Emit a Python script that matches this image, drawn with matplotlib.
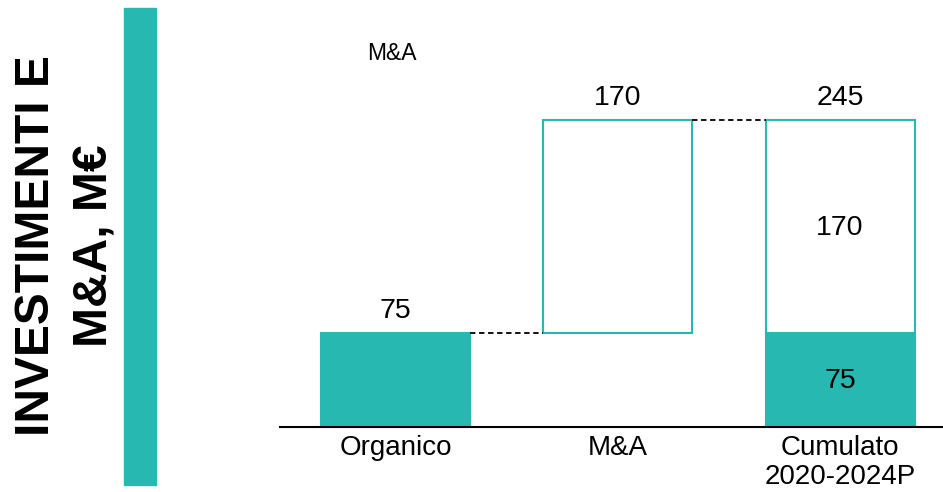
import matplotlib
matplotlib.use("Agg")
import matplotlib.pyplot as plt
from matplotlib.patches import Rectangle

plt.rcParams['font.family'] = ['Liberation Sans', 'DejaVu Sans']

categories = ["Organico", "M&A", "Cumulato\n2020-2024P"]
organico = 75
ma = 170
total = organico + ma
title_lines = ["INVESTIMENTI E", "M&A, M€"]
legend_label = "M&A"

TEAL = "#26B8B1"

W, H = 943, 492
fig = plt.figure(figsize=(W / 100, H / 100), dpi=100)

# main axes: left=280px, right=943px, bottom at 427px (from top), top at 0
ax = fig.add_axes([280 / W, (H - 427) / H, (943 - 280) / W, 427 / H])
ax.set_xlim(-0.52, 2.463)
ax.set_ylim(0, 340.8)
for s in ["left", "right", "top"]:
    ax.spines[s].set_visible(False)
ax.spines["bottom"].set_linewidth(1.5)
ax.spines["bottom"].set_color("black")
ax.set_yticks([])
ax.set_xticks(range(len(categories)))
ax.set_xticklabels(categories, fontsize=20, linespacing=1.12)
ax.tick_params(axis="x", length=0, pad=6)

bw = 0.67
# Organico bar (filled)
ax.bar(0, organico, width=bw, color=TEAL, edgecolor=TEAL, linewidth=1.5)
# M&A bar (floating, outline)
ax.bar(1, ma, bottom=organico, width=bw, color="white", edgecolor=TEAL, linewidth=1.5)
# Cumulato: filled organico + outlined M&A
ax.bar(2, organico, width=bw, color=TEAL, edgecolor=TEAL, linewidth=1.5)
ax.bar(2, ma, bottom=organico, width=bw, color="white", edgecolor=TEAL, linewidth=1.5)

# connectors
ax.plot([0 + bw / 2, 1 - bw / 2], [organico, organico], ls=(0, (3, 2)), color="black", lw=1.3)
ax.plot([1 + bw / 2, 2 - bw / 2], [total, total], ls=(0, (3, 2)), color="black", lw=1.3)

# value labels
fs = 20.5
ax.text(0, organico + 17.5, f"{organico}", ha="center", va="center", fontsize=fs)
ax.text(1, total + 17.5, f"{ma}", ha="center", va="center", fontsize=fs)
ax.text(2, total + 17.5, f"{total}", ha="center", va="center", fontsize=fs)
ax.text(2, organico + ma / 2 - 1, f"{ma}", ha="center", va="center", fontsize=fs)
ax.text(2, organico / 2 - 1, f"{organico}", ha="center", va="center", fontsize=fs)

# legend-like label
fig.text(391.5 / W, 1 - 53 / H, legend_label, ha="center", va="center", fontsize=16.5)

# vertical teal band
fig.patches.append(Rectangle((124 / W, 1 - 485 / H), 32 / W, 477 / H,
                             transform=fig.transFigure, color=TEAL, zorder=0))

# vertical title
fig.text(37 / W, 1 - 246 / H, title_lines[0], rotation=90, ha="center", va="center",
         fontsize=34.5, fontweight="bold")
fig.text(95 / W, 1 - 246 / H, title_lines[1], rotation=90, ha="center", va="center",
         fontsize=34.5, fontweight="bold")

fig.savefig("out.png", dpi=100)
